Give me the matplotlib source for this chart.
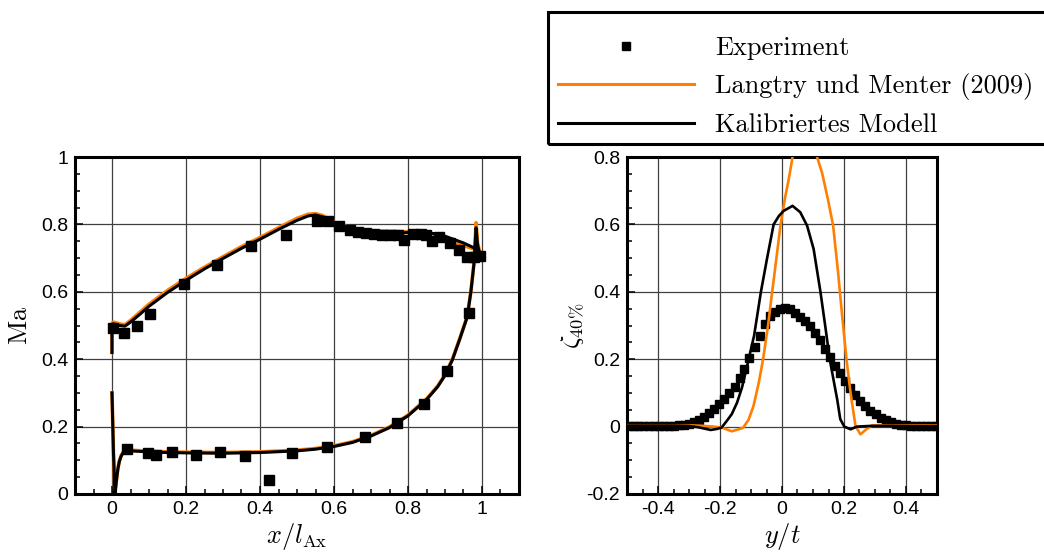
import numpy as np
import matplotlib
matplotlib.use("Agg")
import matplotlib.pyplot as plt
from matplotlib.lines import Line2D
from matplotlib.patches import Rectangle

plt.rcParams["font.family"] = ["Liberation Sans", "DejaVu Sans"]
plt.rcParams["mathtext.fontset"] = "cm"
plt.rcParams["axes.unicode_minus"] = False

ORANGE = "#ff8000"

# ---------------- Isentropic Mach number on the blade surface ----------------
exp_ss_x = [0.004, 0.032, 0.067, 0.103, 0.194, 0.284, 0.377, 0.469, 0.553, 0.585,
            0.613, 0.643, 0.665, 0.687, 0.709, 0.730, 0.752, 0.774, 0.789, 0.813,
            0.835, 0.850, 0.866, 0.885, 0.913, 0.938, 0.960, 0.978, 0.995]
exp_ss_ma = [0.494, 0.478, 0.498, 0.534, 0.623, 0.681, 0.737, 0.768, 0.811, 0.810,
             0.795, 0.783, 0.776, 0.773, 0.771, 0.770, 0.770, 0.769, 0.754, 0.771,
             0.772, 0.770, 0.751, 0.762, 0.745, 0.725, 0.703, 0.703, 0.705]
exp_ps_x = [0.040, 0.098, 0.118, 0.161, 0.227, 0.293, 0.359, 0.425, 0.487, 0.582,
            0.683, 0.769, 0.843, 0.906, 0.964]
exp_ps_ma = [0.135, 0.122, 0.116, 0.125, 0.116, 0.125, 0.112, 0.041, 0.121, 0.138,
             0.170, 0.212, 0.267, 0.366, 0.536]

ss_x = [0.0, 0.0, 0.003, 0.01, 0.02, 0.035, 0.05, 0.075, 0.1, 0.15, 0.2, 0.25, 0.3,
        0.35, 0.4, 0.45, 0.5, 0.53, 0.55, 0.57, 0.6, 0.63, 0.65, 0.7, 0.75, 0.8,
        0.85, 0.88, 0.9, 0.95, 0.987, 1.0]
ss_ma_lm = [0.42, 0.505, 0.51, 0.508, 0.505, 0.502, 0.515, 0.539, 0.563, 0.604, 0.640,
            0.673, 0.704, 0.734, 0.761, 0.790, 0.818, 0.830, 0.832, 0.826, 0.806,
            0.795, 0.788, 0.781, 0.780, 0.778, 0.766, 0.758, 0.751, 0.737, 0.724, 0.712]
ss_ma_cal = [0.42, 0.50, 0.505, 0.503, 0.500, 0.498, 0.510, 0.533, 0.557, 0.598, 0.634,
             0.668, 0.699, 0.729, 0.756, 0.785, 0.812, 0.825, 0.828, 0.822, 0.802,
             0.790, 0.783, 0.775, 0.772, 0.776, 0.776, 0.771, 0.765, 0.745, 0.726, 0.706]

ps_x = [0.0, 0.004, 0.008, 0.012, 0.016, 0.02, 0.025, 0.03, 0.04, 0.05, 0.1, 0.15,
        0.2, 0.3, 0.4, 0.5, 0.55, 0.6, 0.65, 0.7, 0.75, 0.8, 0.85, 0.88, 0.9, 0.92,
        0.94, 0.96, 0.97, 0.978, 0.984, 0.988, 0.993, 1.0]
ps_ma_lm = [0.30, 0.12, 0.0, 0.042, 0.077, 0.099, 0.115, 0.124, 0.130, 0.130, 0.127,
            0.125, 0.124, 0.123, 0.125, 0.130, 0.135, 0.143, 0.155, 0.174, 0.199,
            0.234, 0.282, 0.320, 0.354, 0.400, 0.462, 0.527, 0.602, 0.682, 0.805,
            0.745, 0.722, 0.712]
ps_ma_cal = [0.30, 0.12, 0.0, 0.040, 0.075, 0.097, 0.113, 0.122, 0.128, 0.128, 0.125,
             0.123, 0.122, 0.121, 0.123, 0.128, 0.133, 0.141, 0.153, 0.172, 0.197,
             0.232, 0.280, 0.318, 0.352, 0.398, 0.460, 0.525, 0.600, 0.680, 0.790,
             0.740, 0.716, 0.706]

# ---------------- Total pressure loss in the wake at 40 % ----------------
exp_y = [-0.495, -0.479, -0.463, -0.447, -0.430, -0.414, -0.398, -0.381, -0.365, -0.349,
         -0.333, -0.316, -0.300, -0.284, -0.267, -0.251, -0.235, -0.219, -0.202, -0.186,
         -0.170, -0.153, -0.137, -0.121, -0.105, -0.088, -0.072, -0.056, -0.040, -0.023,
         -0.007, 0.009, 0.025, 0.042, 0.058, 0.074, 0.090, 0.107, 0.123, 0.139,
         0.155, 0.172, 0.188, 0.204, 0.220, 0.237, 0.253, 0.269, 0.285, 0.302,
         0.318, 0.334, 0.350, 0.367, 0.383, 0.399, 0.415, 0.432, 0.448, 0.464,
         0.480, 0.497]
exp_zeta = [0.003, 0.003, 0.002, 0.002, 0.002, 0.002, 0.002, 0.003, 0.003, 0.003,
            0.004, 0.006, 0.009, 0.013, 0.020, 0.029, 0.040, 0.053, 0.067, 0.082,
            0.100, 0.118, 0.145, 0.172, 0.203, 0.236, 0.270, 0.305, 0.328, 0.340,
            0.348, 0.352, 0.350, 0.338, 0.326, 0.313, 0.298, 0.278, 0.256, 0.231,
            0.206, 0.181, 0.158, 0.136, 0.114, 0.093, 0.076, 0.060, 0.047, 0.037,
            0.027, 0.019, 0.013, 0.009, 0.006, 0.004, 0.003, 0.002, 0.002, 0.002,
            0.002, 0.002]

lm_y = [-0.5, -0.4, -0.35, -0.3, -0.25, -0.22, -0.194, -0.162, -0.126, -0.108, -0.092,
        -0.075, -0.061, -0.045, -0.032, -0.018, -0.005, 0.01, 0.022, 0.034, 0.05, 0.07,
        0.09, 0.113, 0.129, 0.148, 0.165, 0.181, 0.194, 0.208, 0.221, 0.237, 0.253,
        0.272, 0.291, 0.35, 0.42, 0.5]
lm_zeta = [0.004, 0.004, 0.004, 0.004, 0.002, 0.0, -0.003, -0.014, -0.004, 0.02, 0.061,
           0.13, 0.2, 0.3, 0.398, 0.50, 0.596, 0.68, 0.735, 0.80, 0.87, 0.91, 0.89,
           0.80, 0.754, 0.675, 0.596, 0.457, 0.329, 0.2, 0.101, 0.002, -0.023, -0.008,
           0.004, 0.003, 0.003, 0.003]

cal_y = [-0.5, -0.45, -0.4, -0.35, -0.3, -0.27, -0.25, -0.23, -0.21, -0.195, -0.178,
         -0.162, -0.145, -0.129, -0.11, -0.09, -0.068, -0.048, -0.027, -0.01, 0.005,
         0.034, 0.059, 0.081, 0.102, 0.124, 0.14, 0.154, 0.168, 0.178, 0.188, 0.201,
         0.221, 0.242, 0.285, 0.35, 0.42, 0.5]
cal_zeta = [0.003, 0.003, 0.003, 0.003, 0.002, -0.002, -0.006, -0.010, -0.007, -0.003,
            0.017, 0.037, 0.071, 0.116, 0.19, 0.27, 0.40, 0.50, 0.60, 0.625, 0.64,
            0.655, 0.636, 0.596, 0.527, 0.40, 0.295, 0.20, 0.13, 0.081, 0.022, 0.0,
            -0.008, 0.0, 0.002, 0.002, 0.001, 0.001]

# ---------------- Axis ticks ----------------
ma_xticks = [0, 0.2, 0.4, 0.6, 0.8, 1.0]
ma_xticklabels = ["0", "0.2", "0.4", "0.6", "0.8", "1"]
ma_yticks = [0, 0.2, 0.4, 0.6, 0.8, 1.0]
ma_yticklabels = ["0", "0.2", "0.4", "0.6", "0.8", "1"]
wake_xticks = [-0.4, -0.2, 0, 0.2, 0.4]
wake_xticklabels = ["-0.4", "-0.2", "0", "0.2", "0.4"]
wake_yticks = [-0.2, 0, 0.2, 0.4, 0.6, 0.8]
wake_yticklabels = ["-0.2", "0", "0.2", "0.4", "0.6", "0.8"]

legend_labels = ["Experiment", "Langtry und Menter (2009)", "Kalibriertes Modell"]

W, H = 1044, 555
fig = plt.figure(figsize=(W / 100, H / 100), dpi=100)
ax1 = fig.add_axes([75 / W, 61 / H, 444 / W, 337 / H])
ax2 = fig.add_axes([627 / W, 61 / H, 310 / W, 337 / H])


def style_axes(ax, xlim, ylim, xt, xtl, yt, ytl):
    ax.set_xlim(*xlim)
    ax.set_ylim(*ylim)
    ax.set_xticks(xt)
    ax.set_xticklabels(xtl)
    ax.set_yticks(yt)
    ax.set_yticklabels(ytl)
    ax.set_xticks(np.arange(xlim[0], xlim[1] + 1e-9, 0.05), minor=True)
    ax.set_yticks(np.arange(ylim[0], ylim[1] + 1e-9, 0.05), minor=True)
    ax.tick_params(which="both", direction="in", top=False, right=False,
                   labelsize=14, width=1.1, colors="black", pad=5)
    ax.tick_params(which="major", length=6)
    ax.tick_params(which="minor", length=3.6)
    ax.grid(True, which="major", color="0.25", lw=0.9)
    ax.set_axisbelow(True)
    for s in ax.spines.values():
        s.set_linewidth(2.2)


style_axes(ax1, (-0.1, 1.1), (0, 1), ma_xticks, ma_xticklabels, ma_yticks, ma_yticklabels)
style_axes(ax2, (-0.5, 0.5), (-0.2, 0.8), wake_xticks, wake_xticklabels, wake_yticks,
           wake_yticklabels)

# Mach number distribution
ax1.plot(ss_x, ss_ma_lm, color=ORANGE, lw=2.6, zorder=2)
ax1.plot(ps_x, ps_ma_lm, color=ORANGE, lw=2.6, zorder=2)
ax1.plot(ss_x, ss_ma_cal, color="black", lw=2.2, zorder=3)
ax1.plot(ps_x, ps_ma_cal, color="black", lw=2.2, zorder=3)
ax1.plot(exp_ss_x, exp_ss_ma, ls="none", marker="s", ms=6.7, color="black", zorder=4)
ax1.plot(exp_ps_x, exp_ps_ma, ls="none", marker="s", ms=6.7, color="black", zorder=4)
ax1.set_xlabel(r"$x/l_{\mathrm{Ax}}$", fontsize=19, labelpad=2)
ax1.set_ylabel(r"$\mathrm{Ma}$", fontsize=19, labelpad=6)

# Wake loss profile
ax2.plot(exp_y, exp_zeta, ls="none", marker="s", ms=6.0, color="black", zorder=2)
ax2.plot(lm_y, lm_zeta, color=ORANGE, lw=1.9, zorder=3)
ax2.plot(cal_y, cal_zeta, color="black", lw=1.9, zorder=4)
ax2.set_xlabel(r"$y/t$", fontsize=19, labelpad=2)
ax2.set_ylabel(r"$\zeta_{40\%}$", fontsize=19, labelpad=0)

# Legend in a box along the top edge
fig.patches.append(Rectangle((548 / W, 1 - 144 / H), 600 / W, 132 / H,
                             transform=fig.transFigure, fill=False, lw=2.2,
                             ec="black", clip_on=False))
handles = [Line2D([], [], ls="none", marker="s", ms=5.8, color="black"),
           Line2D([], [], color=ORANGE, lw=2.2),
           Line2D([], [], color="black", lw=2.2)]
fig.legend(handles, legend_labels, loc="center left",
           bbox_to_anchor=(558 / W, 1 - 87 / H), frameon=False, borderpad=0,
           borderaxespad=0, handlelength=5.15, handletextpad=0.8, labelspacing=0.5,
           prop={"family": "cmr10", "size": 19})

fig.savefig("out.png", dpi=100)
